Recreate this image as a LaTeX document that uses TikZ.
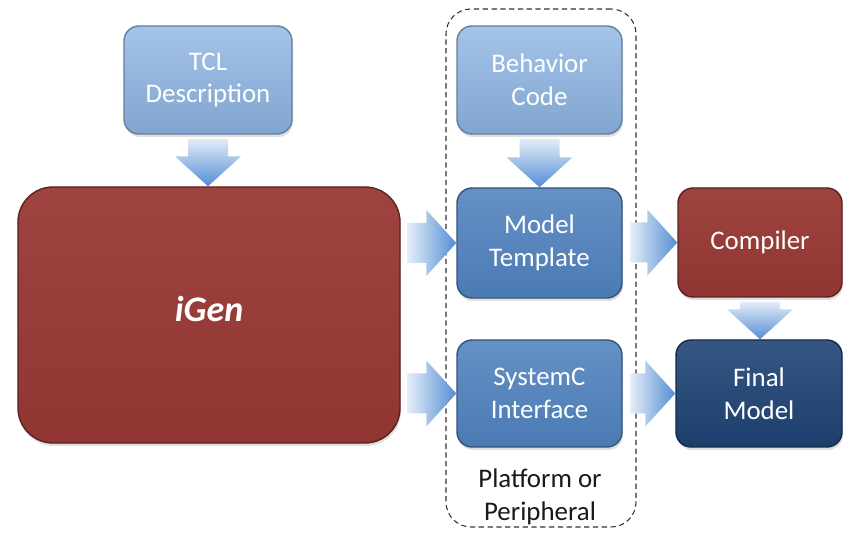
\documentclass[tikz,border=0pt]{standalone}
\usepackage{fontspec}
\setmainfont{Carlito}
\usepackage{xcolor}
\usepackage{tikz}
\usetikzlibrary{positioning,calc,shadows}

\definecolor{ltblue}{RGB}{141,180,226}
\definecolor{mdblue}{RGB}{79,129,189}
\definecolor{dkred}{RGB}{152,56,52}
\definecolor{navy}{RGB}{31,68,118}
\definecolor{arrlt}{RGB}{228,237,248}
\definecolor{arrblue}{RGB}{84,141,212}

% fat gradient arrows: tail (#1), tip (#2)
\newcommand{\harr}[2]{%
  \shade[left color=arrlt, right color=arrblue]
    let \p1=(#1), \p2=(#2) in
    (\x1,\y2+0.4cm) -- (\x2-0.6cm,\y2+0.4cm) -- (\x2-0.6cm,\y2+0.66cm) -- (\x2,\y2)
    -- (\x2-0.6cm,\y2-0.66cm) -- (\x2-0.6cm,\y2-0.4cm) -- (\x1,\y2-0.4cm) -- cycle;}
\newcommand{\varr}[2]{%
  \shade[top color=arrlt, bottom color=arrblue]
    let \p1=(#1), \p2=(#2) in
    (\x2-0.4cm,\y1) -- (\x2-0.4cm,\y2+0.6cm) -- (\x2-0.66cm,\y2+0.6cm) -- (\x2,\y2)
    -- (\x2+0.66cm,\y2+0.6cm) -- (\x2+0.4cm,\y2+0.6cm) -- (\x2+0.4cm,\y1) -- cycle;}

\begin{document}
\begin{tikzpicture}[
  box/.style={rectangle, rounded corners=0.3cm, align=center, text=white,
              font=\fontsize{15.3}{18.7}\selectfont, line width=0.8pt,
              drop shadow={opacity=0.25, shadow xshift=0.02cm, shadow yshift=-0.06cm}},
  lbox/.style={box, top color=ltblue!80!white, bottom color=ltblue!92!black, draw=ltblue!70!black},
  mbox/.style={box, top color=mdblue!88!white, bottom color=mdblue!95!black, draw=mdblue!65!black},
  rbox/.style={box, top color=dkred!94!white, bottom color=dkred!95!black, draw=dkred!60!black},
  nbox/.style={box, top color=navy!90!white, bottom color=navy!92!black, draw=navy!60!black},
]
\useasboundingbox (0,0) rectangle (17,-10.66);

% --- platform container ---
\node[draw=black!80, dashed, dash pattern=on 3pt off 2pt, line width=0.6pt,
      rounded corners=0.5cm, minimum width=3.8cm, minimum height=10.36cm] (plt) at (10.82,-5.36) {};
\node[align=center, font=\fontsize{15.3}{18.7}\selectfont, text=black!90] (plat) at (10.8,-9.93) {Platform or\\ Peripheral};

% --- boxes ---
\node[lbox, minimum width=3.36cm, minimum height=2.16cm] (tcl) at (4.16,-1.6) {TCL\\ Description};
\node[rbox, rounded corners=0.7cm, minimum width=7.64cm, minimum height=5.12cm,
      font=\fontsize{20.5}{24}\selectfont\bfseries\itshape] (igen) at (4.18,-6.30) {\raisebox{0.26cm}{iGen}};
\node[lbox, minimum width=3.3cm, minimum height=2.16cm] (beh) at (10.79,-1.6) {Behavior\\ Code};
\node[mbox, minimum width=3.3cm, minimum height=2.2cm] (tmpl) at (10.79,-4.86) {Model\\ Template};
\node[mbox, minimum width=3.3cm, minimum height=2.14cm] (sysc) at (10.79,-7.87) {SystemC\\ Interface};
\node[rbox, minimum width=3.28cm, minimum height=2.18cm] (comp) at (15.2,-4.85) {Compiler};
\node[nbox, minimum width=3.32cm, minimum height=2.14cm] (final) at (15.18,-7.87) {Final\\ Model};

% --- arrows ---
\varr{$(tcl.south)+(0,-0.08)$}{igen.north -| tcl.south}
\varr{$(beh.south)+(0,-0.08)$}{tmpl.north}
\varr{$(comp.south)+(0,-0.08)$}{final.north -| comp.south}
\harr{$(igen.east |- tmpl.west)+(0.14,0)$}{tmpl.west}
\harr{$(igen.east |- sysc.west)+(0.14,0)$}{sysc.west}
\harr{$(tmpl.east)+(0.16,0)$}{comp.west}
\harr{$(sysc.east)+(0.16,0)$}{final.west}

\end{tikzpicture}
\end{document}
